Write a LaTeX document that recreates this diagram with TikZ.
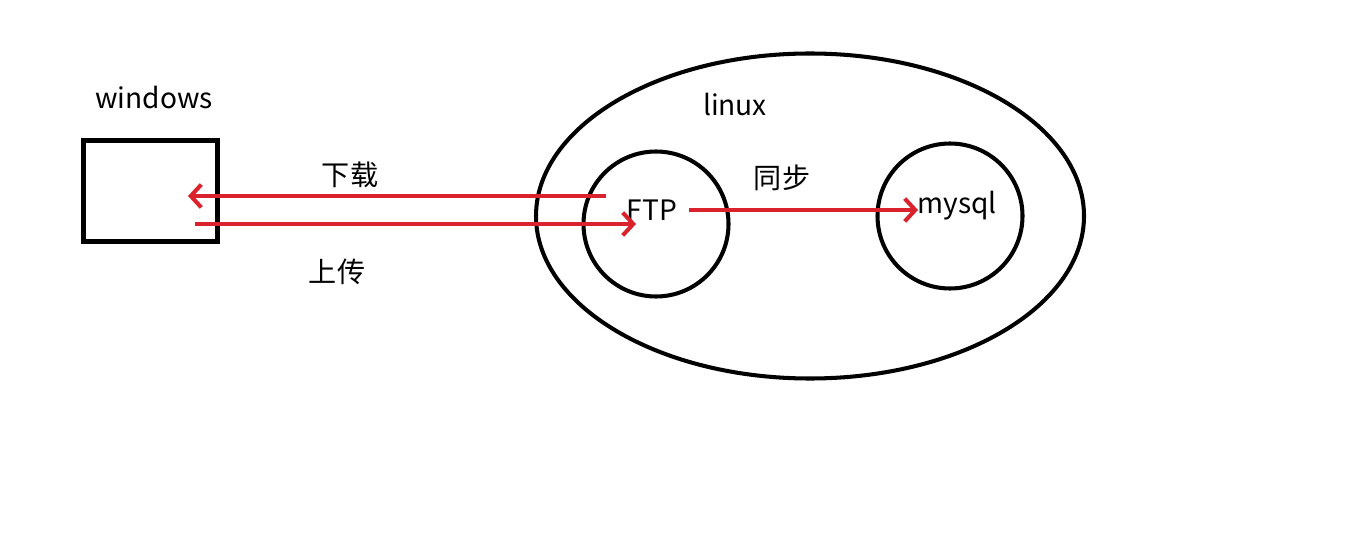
\documentclass[tikz,border=0pt]{standalone}
\usepackage{fontspec}
\newfontfamily\cjk{Noto Sans CJK SC}
\usepackage{tikz}
\usetikzlibrary{arrows.meta,shapes.geometric}
\definecolor{penred}{RGB}{218,34,44}

\tikzset{
    label text/.style={font=\cjk\fontsize{16}{19}\selectfont, inner sep=0pt},
    host box/.style={draw, line width=2.3pt, minimum width=2.68cm, minimum height=2.02cm, inner sep=0pt},
    server ring/.style={draw, ellipse, line width=2.3pt, inner sep=0pt},
    transfer/.style={draw=penred, line width=2.3pt, -{Straight Barb[length=6pt,width=13pt,line width=2.3pt]}},
}

\begin{document}
\begin{tikzpicture}
        \useasboundingbox (0,0) rectangle (27.14,-11.18);

        \node[host box] (win) at (3.01,-3.82) {};
        \node[label text] (winlabel) at (3.08,-1.94) {windows};

        \node[server ring, minimum width=10.96cm, minimum height=6.5cm] (linux) at (16.2,-4.32) {};
        \node[label text] (linuxlabel) at (14.7,-2.08) {linux};

        \node[server ring, minimum width=2.9cm, minimum height=2.9cm] (ftp) at (13.12,-4.48) {};
        \node[server ring, minimum width=2.9cm, minimum height=2.9cm] (mysql) at (19.0,-4.32) {};
        \node[label text] (ftplabel) at (13.04,-4.2) {FTP};
        \node[label text] (mysqllabel) at (19.14,-4.12) {mysql};

        % download / upload between windows and FTP
        \coordinate (downstart) at (12.12,-3.92);
        \coordinate (downend) at (3.76,-3.92);
        \coordinate (upstart) at (3.9,-4.48);
        \coordinate (upend) at (12.72,-4.48);
        \draw[transfer] (downstart) -- (downend);
        \draw[transfer] (upstart) -- (upend);
        \node[label text] (down) at (7.0,-3.5) {下载};
        \node[label text] (up) at (6.74,-5.44) {上传};

        % FTP to mysql
        \coordinate (syncstart) at (13.78,-4.2);
        \coordinate (syncend) at (18.36,-4.2);
        \draw[transfer] (syncstart) -- (syncend);
        \node[label text] (sync) at (15.64,-3.56) {同步};
\end{tikzpicture}
\end{document}
